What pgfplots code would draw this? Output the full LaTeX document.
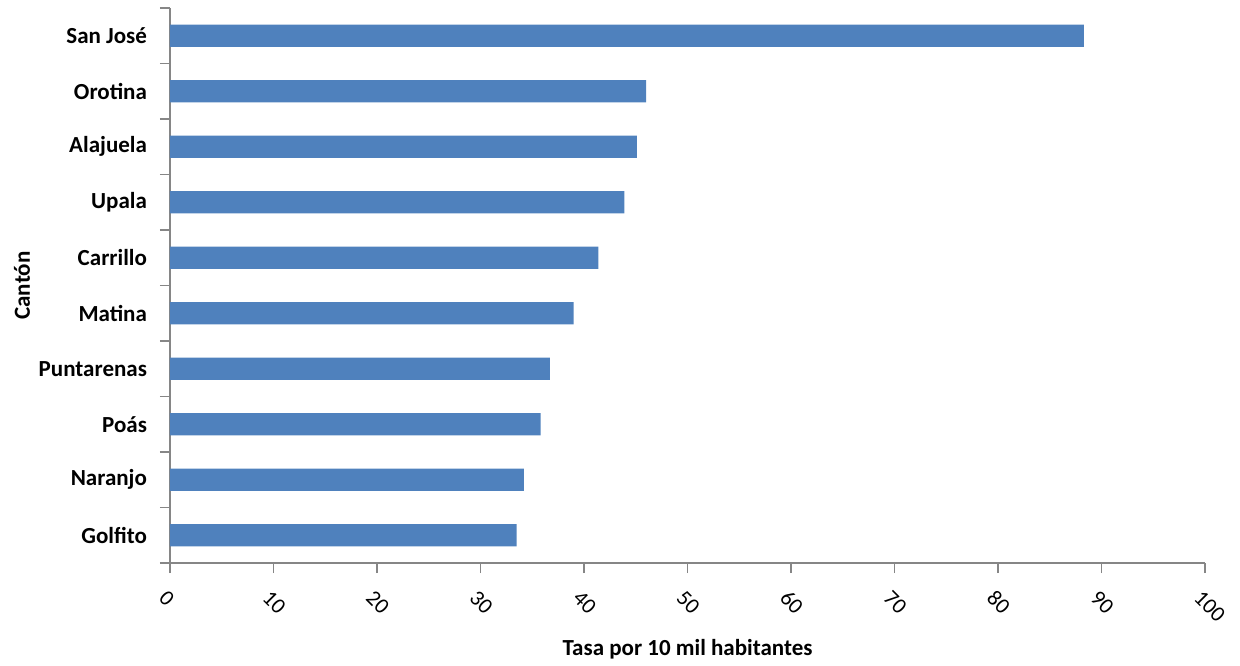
\documentclass[border=0pt]{standalone}
\usepackage{fontspec}
\setmainfont{Carlito}
\usepackage{pgfplots}
\pgfplotsset{compat=1.18}
\definecolor{barblue}{HTML}{4F81BD}
\definecolor{axgray}{HTML}{868686}
\begin{document}
\begin{tikzpicture}
\begin{axis}[
  name=ax,
  scale only axis,
  width=517.5pt, height=277.5pt,
  xbar, bar width=0.4,
  xmin=0, xmax=100,
  ymin=-0.5, ymax=9.5,
  axis x line*=bottom, axis y line*=left,
  axis line style={draw=axgray, line width=0.8pt, -},
  xtick={0,10,...,100},
  ytick={0,...,9},
  yticklabels={Golfito,Naranjo,Poás,Puntarenas,Matina,Carrillo,Upala,Alajuela,Orotina,San José},
  minor ytick={-0.5,0.5,...,9.5},
  major tick length=5pt,
  minor tick length=5pt,
  tick align=outside,
  every minor tick/.style={draw=axgray, line width=0.8pt},
  x tick style={draw=axgray, line width=0.8pt},
  major y tick style={draw=none},
  /pgf/number format/assume math mode=true,
  xticklabel style={font=\fontsize{11}{13}\selectfont, rotate=-45, anchor=west, xshift=1.5pt, yshift=-10pt},
  yticklabel style={font=\fontsize{11.5}{13}\selectfont\bfseries, xshift=-3pt},
  xlabel={Tasa por 10 mil habitantes},
  ylabel={Cantón},
  label style={font=\fontsize{11.5}{13}\selectfont\bfseries},
  xlabel style={yshift=0pt},
  ylabel style={yshift=-2.5pt},
]
\addplot[fill=barblue, draw=none] coordinates {
  (33.5,0) (34.2,1) (35.8,2) (36.7,3) (39.0,4) (41.4,5) (43.9,6) (45.1,7) (46.0,8) (88.3,9)
};
\end{axis}
\path ([xshift=-85pt,yshift=-45.5pt]ax.south west) rectangle ([xshift=17.5pt,yshift=4pt]ax.north east);
\end{tikzpicture}
\end{document}
